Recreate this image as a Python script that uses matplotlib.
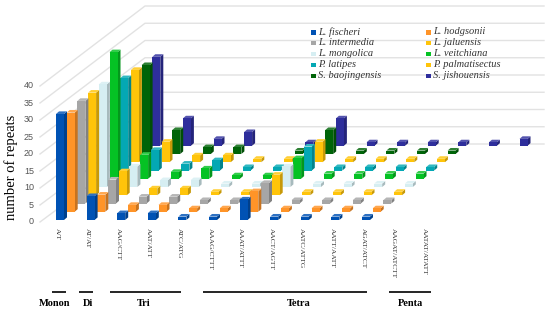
#!/usr/bin/env python3
import matplotlib
matplotlib.use('Agg')
import matplotlib.pyplot as plt
from matplotlib.patches import Polygon, Rectangle

motifs = ['A/T', 'AT/AT', 'AAG/CTT', 'AAT/ATT', 'ATC/ATG', 'AAAG/CTTT', 'AAAT/ATTT',
          'AACT/AGTT', 'AATC/ATTG', 'AATT/AATT', 'AGAT/ATCT', 'AAGAT/ATCTT', 'AATAT/ATATT']
species = ['L. fischeri', 'L. hodgsonii', 'L. intermedia', 'L. jaluensis', 'L. mongolica',
           'L. veitchiana', 'P. latipes', 'P. palmatisectus', 'S. baojingensis', 'S. jishouensis']
colors = ['#0052B4', '#FF9428', '#A6A6A6', '#FFC40A', '#D6EEF2',
          '#05C224', '#04A8B4', '#FFC40A', '#006408', '#2E2E9C']

fischeri = [31, 7, 2, 2, 1, 1, 6, 1, 1, 1, 1, 0, 0]
hodgsonii = [29, 5, 2, 2, 1, 1, 6, 1, 1, 1, 1, 0, 0]
intermedia = [30, 7, 2, 2, 1, 1, 6, 1, 1, 1, 1, 0, 0]
jaluensis = [30, 7, 2, 2, 1, 1, 6, 1, 1, 1, 1, 0, 0]
mongolica = [30, 6, 2, 2, 1, 1, 6, 1, 1, 1, 1, 0, 0]
veitchiana = [37, 7, 2, 3, 1, 1, 6, 1.5, 1.5, 1.5, 1.5, 0, 0]
latipes = [27, 6, 2, 3, 1, 1, 7, 1, 1, 1, 1, 0, 0]
palmatisectus = [27, 6, 2, 2, 1, 1, 6, 1, 1, 1, 1, 0, 0]
baojingensis = [26, 7, 2, 2, 0, 1, 7, 1, 1, 1, 1, 0, 0]
jishouensis = [26, 8, 2, 4, 0, 1, 8, 1, 1, 1, 1, 1, 2]
values = [fischeri, hodgsonii, intermedia, jaluensis, mongolica,
          veitchiana, latipes, palmatisectus, baojingensis, jishouensis]

y_ticks = [0, 5, 10, 15, 20, 25, 30, 35, 40]
groups = [('Monon', 52, 66, 55), ('Di', 79, 93, 88), ('Tri', 110, 181, 144),
          ('Tetra', 203, 367, 299), ('Penta', 389, 431, 411)]

# oblique projection, everything is in pixels of the 550x313 picture
X0, Y0 = 56, 220
STEP_CAT, STEP_SER = 30.6, 10.7
RISE_SER, PX_UNIT = 8.25, 3.42
BAR_W, SIDE_X, SIDE_Y = 8, 3, 2.6


def shade(hex_col, f):
    rgb = matplotlib.colors.to_rgb(hex_col)
    if f < 1:
        return tuple(c * f for c in rgb)
    return tuple(c + (1 - c) * (f - 1) for c in rgb)


def draw_bar(ax, k, s, v, col):
    x = X0 + STEP_CAT * k + STEP_SER * s
    yb = Y0 - RISE_SER * s
    yt = yb - PX_UNIT * v
    ax.add_patch(Polygon([(x + BAR_W, yb), (x + BAR_W + SIDE_X, yb - SIDE_Y),
                          (x + BAR_W + SIDE_X, yt - SIDE_Y), (x + BAR_W, yt)],
                         fc=shade(col, 0.78), ec='none'))
    ax.add_patch(Polygon([(x, yt), (x + BAR_W, yt), (x + BAR_W + SIDE_X, yt - SIDE_Y),
                          (x + SIDE_X, yt - SIDE_Y)], fc=shade(col, 1.18), ec='none'))
    ax.add_patch(Rectangle((x, yt), BAR_W, yb - yt, fc=col, ec='none'))


def main():
    fig = plt.figure(figsize=(5.5, 3.13), dpi=100)
    ax = fig.add_axes([0, 0, 1, 1])
    ax.set_xlim(0, 550)
    ax.set_ylim(313, 0)
    ax.axis('off')

    # walls
    for v in y_ticks:
        y_front = 222 - 3.4 * v
        y_back = 144 - 3.45 * v
        ax.plot([40, 145, 544], [y_front, y_back, y_back], color='#E2E2E2', lw=1, zorder=0)
        ax.text(34, y_front, str(v), ha='right', va='center', fontsize=6.5,
                family='Liberation Sans', color='#555555')

    # back row first so the front rows cover it
    for s in range(len(species) - 1, -1, -1):
        for k in range(len(motifs)):
            if values[s][k] > 0:
                draw_bar(ax, k, s, values[s][k], colors[s])

    for k, m in enumerate(motifs):
        ax.text(57 + STEP_CAT * k, 228, m, rotation=270, ha='center', va='top', fontsize=5.4,
                family='Liberation Serif', color='#333333')

    ax.text(11, 167, 'number of repeats', rotation=90, ha='center', va='center',
            fontsize=10.5, family='Liberation Serif', color='black')

    for name, x1, x2, xc in groups:
        ax.plot([x1, x2], [291.5, 291.5], color='black', lw=1.2, solid_capstyle='butt')
        ax.text(xc, 303, name, ha='center', va='center', fontsize=7.5, fontweight='bold',
                family='Liberation Serif', color='black')

    # legend, two columns
    for i, name in enumerate(species):
        row, col = i // 2, i % 2
        xm = 311 if col == 0 else 426
        ym = 32 + 10.9 * row
        ax.add_patch(Rectangle((xm, ym - 2), 5, 4.5, fc=colors[i], ec='none'))
        ax.text(xm + 7, ym, name, ha='left', va='center', fontsize=7.5, style='italic',
                family='Liberation Serif', color='#333333')

    fig.savefig('out.png', dpi=100)


if __name__ == '__main__':
    main()
